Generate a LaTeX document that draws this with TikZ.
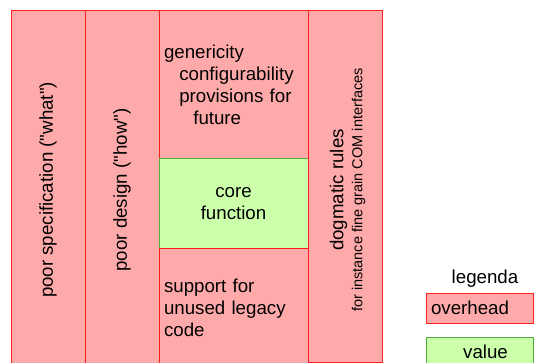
\documentclass[tikz,border=0pt]{standalone}
\usepackage{fontspec}
\setmainfont{Liberation Sans}
\usetikzlibrary{positioning}
\definecolor{overheadfill}{HTML}{FFAAAA}
\definecolor{overheadline}{HTML}{FF2020}
\definecolor{valuefill}{HTML}{CCFFAA}
\definecolor{valueline}{HTML}{55AA44}
\tikzset{
  overhead/.style={draw=overheadline,fill=overheadfill,line width=1pt,inner sep=0pt,outer sep=0pt},
  value/.style={draw=valueline,fill=valuefill,line width=1pt,inner sep=0pt,outer sep=0pt},
  big/.style={font=\fontsize{18.7}{22}\selectfont},
}
\begin{document}
\begin{tikzpicture}[x=1pt,y=-1pt]
        \useasboundingbox (0,0) rectangle (534,363);
        % columns
        \node [overhead,big,rotate=90,minimum width=358,minimum height=74] (spec) at (48,190) {poor specification (\textquotedbl what\textquotedbl)};
        \node [overhead,big,rotate=90,minimum width=358,minimum height=74] (design) at (122,190) {poor design (\textquotedbl how\textquotedbl)};
        \node [overhead,big,anchor=north west,minimum height=148,text width=139,inner xsep=5,align=left] (generic) at (159,11)
            {genericity\\\hspace*{15.3pt}configurability\\\hspace*{15.3pt}provisions for\\\hspace*{29.3pt}future};
        \node [value,big,anchor=north west,minimum width=149,minimum height=89,align=center] (core) at (159,159) {core\\function};
        \node [overhead,big,anchor=north west,minimum height=120,text width=139,inner xsep=5,align=left] (support) at (159,248)
            {support for\\unused legacy\\code};
        \node [overhead,anchor=north west,minimum width=74,minimum height=351] (dogma) at (308,11) {};
        \node [rotate=90,align=center,font=\fontsize{14.5}{19}\selectfont] (dogmatext) at (347.5,190)
            {{\fontsize{18.7}{19}\selectfont dogmatic rules}\\for instance fine grain COM interfaces};
        % legend
        \node [big,anchor=base] (legenda) at (485,283) {legenda};
        \node [overhead,big,anchor=north west,minimum height=30,text width=97,inner xsep=5,align=left] (overheadkey) at (426,293) {overhead};
        \node [value,anchor=north west,minimum width=107,minimum height=30] (valuekey) at (426,337) {};
        \node [big] (valuetext) at (485.5,352) {value};
\end{tikzpicture}
\end{document}
